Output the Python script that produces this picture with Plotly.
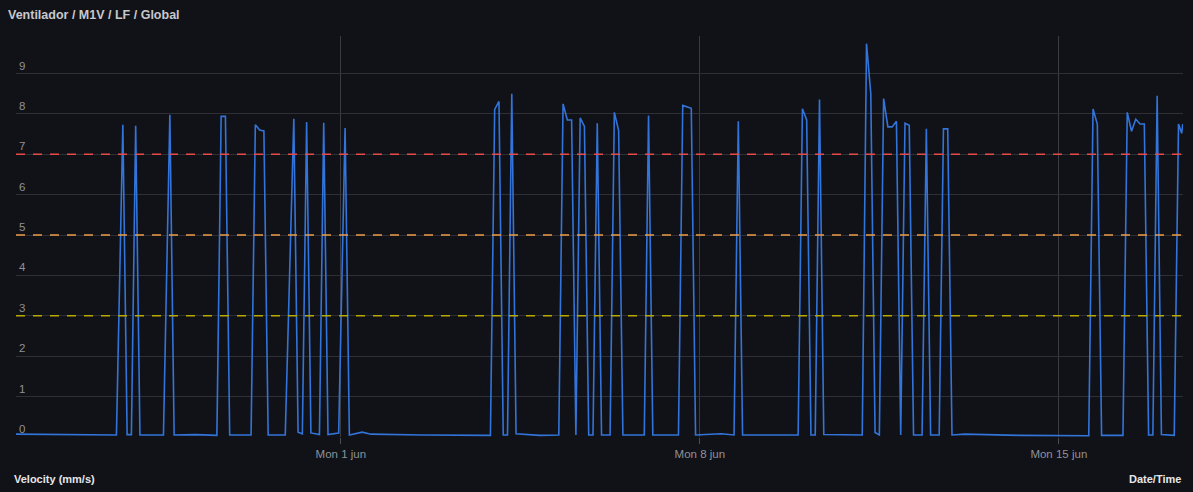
import pandas as pd
import plotly.graph_objects as go

## DATA
start_time = "2020-05-25 16:00"
end_hours = 546.1

# hours elapsed since start_time, and velocity (mm/s)
hours = [0, 20, 47, 50, 52, 54, 56, 58, 69, 72, 74, 84, 94, 96, 98, 100,
         110, 112, 114, 116, 118, 126, 130, 132, 134, 136, 138, 142, 144, 146, 151, 154,
         156, 162, 166, 190, 222, 224, 226, 228, 230, 232, 234, 245, 254, 256, 258, 260,
         262, 264, 266, 268, 270, 272, 274, 278, 280, 282, 284, 294, 296, 298, 310, 312,
         314, 316, 318, 330, 336, 338, 340, 366, 368, 370, 372, 374, 376, 378, 396, 398,
         400, 402, 404, 406, 408, 410, 412, 414, 416, 418, 420, 424, 426, 428, 432, 434,
         436, 438, 444, 470, 502, 504, 506, 508, 518, 520, 522, 524, 526, 528, 530, 532,
         534, 536, 542, 544, 545.5, 546]
velocity = [0.07, 0.06, 0.05, 7.73, 0.06, 0.06, 7.71, 0.05, 0.05, 7.98, 0.05, 0.06, 0.04, 7.94, 7.94, 0.05,
            0.05, 7.73, 7.60, 7.58, 0.05, 0.05, 7.88, 0.12, 0.08, 7.80, 0.10, 0.06, 7.78, 0.06, 0.10, 7.65,
            0.05, 0.12, 0.07, 0.05, 0.04, 8.11, 8.31, 0.05, 0.05, 8.50, 0.08, 0.04, 0.05, 8.25, 7.85, 7.85,
            0.05, 7.90, 7.69, 0.05, 0.05, 7.77, 0.05, 0.05, 8.04, 7.59, 0.05, 0.05, 7.96, 0.05, 0.05, 8.21,
            8.17, 8.14, 0.05, 0.08, 0.05, 7.82, 0.05, 0.05, 8.13, 7.85, 0.05, 0.05, 8.36, 0.06, 0.05, 9.74,
            8.50, 0.11, 0.05, 8.38, 7.68, 7.68, 7.82, 0.05, 7.77, 7.72, 0.05, 0.05, 7.63, 0.05, 0.05, 7.63,
            7.63, 0.05, 0.07, 0.04, 0.03, 8.12, 7.75, 0.04, 0.04, 8.04, 7.57, 7.87, 7.75, 7.75, 0.05, 0.05,
            8.45, 0.06, 0.04, 7.75, 7.52, 7.75]

thresholds = [7, 5, 3]
threshold_colors = ["#e84a4a", "#eb9c46", "#b9a800"]

tick_dates = ["2020-06-01", "2020-06-08", "2020-06-15"]
tick_labels = ["Mon 1 jun", "Mon 8 jun", "Mon 15 jun"]
y_ticks = list(range(10))

t0 = pd.Timestamp(start_time)
times = t0 + pd.to_timedelta(hours, unit="h")
x_end = t0 + pd.to_timedelta(end_hours, unit="h")

BG = "#111217"
GRID = "#2e3035"
TICK = "#8e9199"

fig = go.Figure()
fig.add_trace(go.Scatter(
    x=times,
    y=velocity,
    mode="lines",
    line=dict(color="#3274d9", width=1.6),
    hoverinfo="x+y",
    showlegend=False
))

for level, color in zip(thresholds, threshold_colors):
    fig.add_shape(type="line", xref="paper", yref="y",
                  x0=0, x1=1, y0=level, y1=level,
                  line=dict(color=color, width=1.5, dash="9px,8px"),
                  layer="above")

fig.update_layout(
    width=1193,
    height=492,
    paper_bgcolor=BG,
    plot_bgcolor=BG,
    margin=dict(l=16, r=10, t=36, b=55),
    font=dict(family="Liberation Sans, Arial, sans-serif", color=TICK, size=11.5),
    title=dict(text="<b>Ventilador / M1V / LF / Global</b>",
               x=8 / 1193, xanchor="left", xref="container",
               y=1 - 15 / 492, yanchor="middle", yref="container",
               font=dict(size=12.5, color="#c7c8cc")),
    showlegend=False,
    xaxis=dict(
        range=[t0, x_end],
        tickvals=pd.to_datetime(tick_dates),
        ticktext=tick_labels,
        showgrid=True, gridcolor="#3a3c41", gridwidth=1,
        ticks="outside", ticklen=6, tickcolor="#4a4c52",
        zeroline=False, showline=False,
        tickfont=dict(size=11.5, color=TICK)
    ),
    yaxis=dict(
        range=[0, 9.93],
        tickvals=y_ticks,
        ticklabelposition="inside top",
        showgrid=True, gridcolor=GRID, gridwidth=1,
        zeroline=False, showline=False, ticks="",
        tickfont=dict(size=11.5, color=TICK)
    ),
    annotations=[
        dict(text="<b>Velocity (mm/s)</b>", xref="paper", yref="paper",
             x=-4 / 1167, y=-42 / 401, xanchor="left", yanchor="middle",
             showarrow=False, font=dict(size=11, color="#e6e6ea")),
        dict(text="<b>Date/Time</b>", xref="paper", yref="paper",
             x=1, y=-42 / 401, xanchor="right", yanchor="middle",
             showarrow=False, font=dict(size=11, color="#e6e6ea")),
    ]
)

fig.write_html("out.html",
               config={"displayModeBar": False},
               post_script="document.body.style.margin='0';"
                           "document.body.style.background='#111217';")
